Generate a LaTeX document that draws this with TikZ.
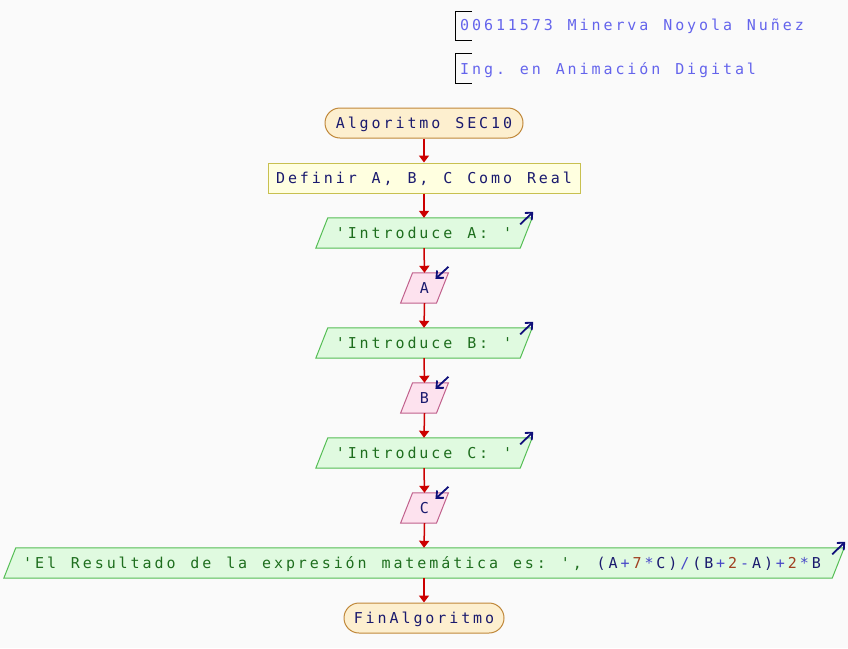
\documentclass[tikz,border=0pt]{standalone}
\usepackage{fontspec}
\usetikzlibrary{arrows.meta,backgrounds,calc}
\newfontfamily\pse{DejaVu Sans Mono}
\newcommand{\psefont}{\pse\fontsize{15}{17}\selectfont}
\ExplSyntaxOn
\NewDocumentCommand\ms{m}{ \str_map_inline:nn {#1} { \hbox_to_wd:nn {11.95pt} { ##1 \hfil } } }
\NewDocumentCommand\mt{m}{ \ms{#1} \kern-2.9pt }
\ExplSyntaxOff
\definecolor{bgc}{HTML}{FAFAFA}
\definecolor{flow}{HTML}{CC0000}
\definecolor{navy}{HTML}{10107A}
\definecolor{txtb}{HTML}{1A1A6E}
\definecolor{hdr}{HTML}{6464EC}
\definecolor{termf}{HTML}{FDEFCF}
\definecolor{termd}{HTML}{C0883A}
\definecolor{deff}{HTML}{FFFFE0}
\definecolor{defd}{HTML}{C8C050}
\definecolor{outf}{HTML}{E0FAE0}
\definecolor{outd}{HTML}{55BE55}
\definecolor{outt}{HTML}{1E6E1E}
\definecolor{inf}{HTML}{FDE2EE}
\definecolor{ind}{HTML}{C0608C}
\definecolor{opc}{HTML}{4848C8}
\definecolor{numc}{HTML}{A04020}
\tikzset{
  txt/.style={font=\psefont, inner sep=0pt, text height=12, text depth=1.2},
  box/.style={txt, minimum height=30, text=txtb},
  term/.style={box, draw=termd, fill=termf, line width=1, rounded corners=15},
  defbox/.style={box, draw=defd, fill=deff, line width=1},
  io/.style={box},
  outshape/.style={draw=outd, fill=outf, line width=1},
  inshape/.style={draw=ind, fill=inf, line width=1},
  flowarr/.style={draw=flow, line width=1.5, -{Triangle[length=7,width=10]}},
  iconarr/.style={draw=navy, line width=1.8, -{Straight Barb[length=5.5,width=10]}},
  hdrtxt/.style={txt, text=hdr, anchor=west},
  brk/.style={draw=black, line width=1}
}
\newcommand{\outpar}[1]{%
  \path[outshape] ($(#1.north west)+(6,0)$) -- ($(#1.north east)+(6,0)$) -- ($(#1.south east)+(-6,0)$) -- ($(#1.south west)+(-6,0)$) -- cycle;}
\newcommand{\inpar}[1]{%
  \path[inshape] ($(#1.north west)+(6,0)$) -- ($(#1.north east)+(6,0)$) -- ($(#1.south east)+(-6,0)$) -- ($(#1.south west)+(-6,0)$) -- cycle;}
\newcommand{\outicon}[1]{%
  \draw[iconarr] ($(#1.north east)+(-6,6.5)$) -- ($(#1.north east)+(7,-6)$);}
\newcommand{\inicon}[1]{%
  \draw[iconarr] ($(#1.north east)+(6,-6)$) -- ($(#1.north east)+(-7,6)$);}
\begin{document}
\begin{tikzpicture}[x=1pt,y=-1pt]
\begin{scope}[on background layer]
\fill[bgc] (0,0) rectangle (848,648);
\end{scope}
\useasboundingbox (0,0) rectangle (848,648);

% header
\node[hdrtxt] (h1) at (460,24.7) {\mt{00611573 Minerva Noyola Nuñez}};
\node[hdrtxt] (h2) at (460,68.7) {\mt{Ing. en Animación Digital}};
\draw[brk] (472,11) -- (455,11) -- (455,40) -- (472,40);
\draw[brk] (472,53) -- (455,53) -- (455,83) -- (472,83);

% flow nodes
\node[term, minimum width=198] (start) at (424,123) {\mt{Algoritmo SEC10}};
\node[defbox, minimum width=312] (def) at (424,178) {\mt{Definir A, B, C Como Real}};
\node[io, minimum width=204, text=outt] (o1) at (424,233) {\mt{'Introduce A: '}};
\node[io, minimum width=35.5] (iA) at (424.5,288) {\mt{A}};
\node[io, minimum width=204, text=outt] (o2) at (424,343) {\mt{'Introduce B: '}};
\node[io, minimum width=35.5] (iB) at (424.5,398) {\mt{B}};
\node[io, minimum width=204, text=outt] (o3) at (424,453) {\mt{'Introduce C: '}};
\node[io, minimum width=35.5] (iC) at (424.5,508) {\mt{C}};
\node[io, minimum width=828, text=outt] (o4) at (424,563) {\kern-4pt\ms{'El Resultado de la expresión matemática es: ', }\textcolor{txtb}{\ms{(A}}\textcolor{opc}{\ms{+}}\textcolor{numc}{\ms{7}}\textcolor{opc}{\ms{*}}\textcolor{txtb}{\ms{C)}}\textcolor{opc}{\ms{/}}\textcolor{txtb}{\ms{(B}}\textcolor{opc}{\ms{+}}\textcolor{numc}{\ms{2}}\textcolor{opc}{\ms{-}}\textcolor{txtb}{\ms{A)}}\textcolor{opc}{\ms{+}}\textcolor{numc}{\ms{2}}\textcolor{opc}{\ms{*}}\textcolor{txtb}{\ms{B}}\kern-2.9pt};
\node[term, minimum width=160] (end) at (424,618) {\mt{FinAlgoritmo}};

\begin{scope}[on background layer]
\outpar{o1}\outpar{o2}\outpar{o3}\outpar{o4}
\inpar{iA}\inpar{iB}\inpar{iC}
\end{scope}

\outicon{o1}\outicon{o2}\outicon{o3}\outicon{o4}
\inicon{iA}\inicon{iB}\inicon{iC}

% connectors
\draw[flowarr] (start.south) -- (def.north);
\draw[flowarr] (def.south) -- (o1.north);
\draw[flowarr] (o1.south) -- (iA.north);
\draw[flowarr] (iA.south) -- (o2.north);
\draw[flowarr] (o2.south) -- (iB.north);
\draw[flowarr] (iB.south) -- (o3.north);
\draw[flowarr] (o3.south) -- (iC.north);
\draw[flowarr] (iC.south) -- (o4.north);
\draw[flowarr] (o4.south) -- (end.north);
\end{tikzpicture}
\end{document}
